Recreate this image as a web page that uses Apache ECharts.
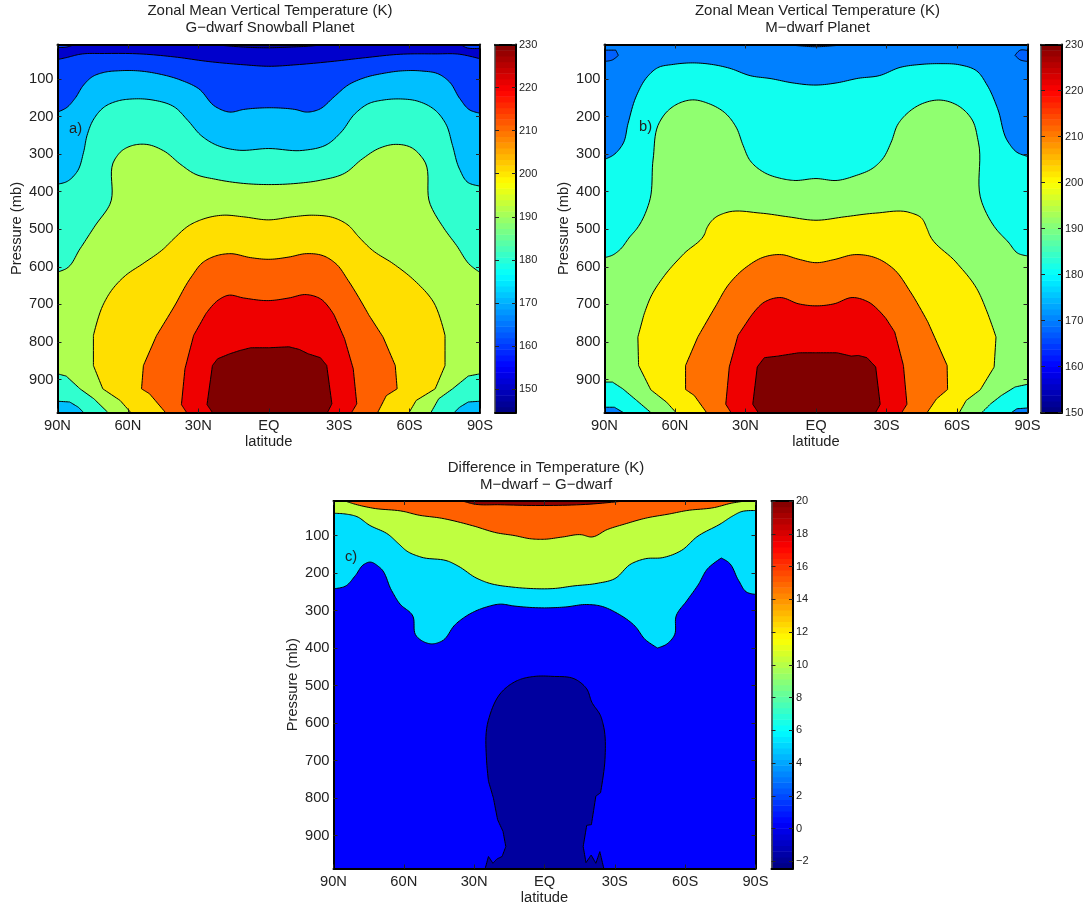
<!DOCTYPE html>
<html><head><meta charset="utf-8">
<style>html,body{margin:0;padding:0;background:#fff}#c{width:1089px;height:906px}</style>
<script src="https://cdn.jsdelivr.net/npm/echarts@6/dist/echarts.min.js"></script>
</head><body><div id="c"></div>
<script>
// Axis values
const latTicks = {'-90':'90N','-60':'60N','-30':'30N','0':'EQ','30':'30S','60':'60S','90':'90S'};
const pressureTicks = [100,200,300,400,500,600,700,800,900];
const P_TOP = 8, P_BOT = 988;
const cbTicksA = [150,160,170,180,190,200,210,220,230];
const cbTicksB = [150,160,170,180,190,200,210,220,230];
const cbTicksC = [-2,0,2,4,6,8,10,12,14,16,18,20];

// Panel a: contour outlines as [latitude (+ = south), pressure mb]
const a_base = [[-90,8],[90,8],[90,988],[-90,988]];
const a_lens = [[-24,8],[-18,11.4],[-7.8,15.8],[0,16.7],[8.6,15],[19,11.4],[24,8]];
const a_cornerL = [[-90,8],[-90,16],[-86.3,15],[-82.6,8]];
const a_cornerR = [[90,8],[81.8,8],[84,16],[90,18]];
const a_160 = [[-90,48],[-86.3,43],[-80.4,34],[-70,32],[-55,33],[-40.3,41],[-25.5,53.5],[-10.6,62],[0,66],[11.6,62],[26.5,53.5],[41.3,43],[56,34],[70.9,33],[81.4,34],[90,46],[90,988],[-90,988]];
const a_170 = [[-90,188],[-86.3,177],[-82.6,152],[-78.9,116],[-75.2,94],[-70,82],[-64,78],[-55,78.5],[-47.9,85],[-37.4,103],[-30,125],[-22.6,174],[-16.6,188],[-10.7,181],[-3.3,177],[4.2,177],[11.6,181.5],[16,188],[21.2,181.5],[27.9,147],[33.8,116],[41.3,95.5],[48.7,85],[56.1,78.5],[65,78.5],[72.5,87],[76.9,107],[81.4,152],[85.8,183],[90,191],[90,988],[-90,988]];
const a_180 = [[-90,380],[-86.3,374],[-81.9,349],[-78.9,295],[-77.4,250],[-74.5,206],[-70,174],[-64.1,158],[-58.1,153],[-49.3,156],[-40.3,174],[-34.5,210],[-28.5,252],[-22.6,275],[-13.7,289],[0,285],[14.5,290],[24.9,274],[30.9,241],[36.8,192],[42.7,165],[48.7,156],[56.1,153],[63.5,159],[70.9,183],[75.4,219],[78.3,277],[81.3,340],[85,376],[90,385],[90,988],[-90,988]];
const a_190 = [[-90,614],[-86.3,605],[-80.4,552],[-73.8,489],[-67.7,434],[-65.5,313],[-62.6,291],[-58.1,277],[-52.2,274],[-44.8,291],[-37.4,328],[-31.4,353],[-22.6,367],[-10.7,378],[0,381],[11.6,378],[22,369.5],[32.3,351],[39.8,313],[47.2,284],[53.9,274],[60.6,282],[65.8,313],[68.8,434],[74.8,499],[80,543],[85.9,596],[90,615],[90,885],[85,891],[78.3,925],[72.4,951.5],[69.1,988],[-68.5,988],[-74.5,951.5],[-80.4,925],[-86.3,891],[-90,885]];
const a_cornerBL = [[-90,958],[-84.8,960],[-81.1,974],[-78.9,988],[-90,988]];
const a_cornerBR = [[90,958],[85,960],[81.3,974],[79,988],[90,988]];
const a_200 = [[-58.8,988],[-63.3,956],[-70.7,925],[-74.7,863],[-74.7,783],[-70.7,703],[-67,663],[-61,623],[-53.7,592],[-44.8,552],[-40.4,525],[-33.7,489],[-28.5,474],[-19.6,462.6],[-10.7,467],[0,475],[10,467],[19,462.6],[28,470],[33.8,489],[38.3,520],[44.2,556],[53.1,592],[62,636],[70.2,694],[75.1,783],[75.1,863],[70.9,925],[62.8,956],[59.8,988]];
const a_210 = [[-44,988],[-50.8,938],[-54.2,925],[-53.4,863],[-47.8,783],[-40.4,707],[-33,627],[-27.8,587],[-22.6,571],[-16.6,565],[-7.7,575.6],[0,580],[8.6,574],[16,565],[23.4,571],[28.6,591.6],[33.8,636],[42.7,729],[48.7,787],[53.9,863],[54.7,925],[50.1,943],[46.4,988]];
const a_220 = [[-35,988],[-37.2,967],[-35.7,871.6],[-32,782.7],[-26.8,725],[-21.6,689],[-17.4,676],[-10.7,683],[0,690],[8.6,683],[16,674],[22,685],[27.9,729],[32.3,791.6],[36,871.6],[37.5,965],[35.3,988]];
const a_230 = [[-24,988],[-26.3,967],[-24,863],[-21.8,845],[-16.6,831.6],[-12.2,822.7],[-7.7,815.6],[0,815.6],[8.6,813],[13,820],[16.8,831.6],[22,842],[24.7,862.7],[26.9,965],[25,988]];

// Panel b
const b_base = [[-90,8],[90,8],[90,988],[-90,988]];
const b_lens = [[-14,8],[-8,11],[0,14],[8,11],[14.2,8]];
const b_cornerL = [[-90,23],[-85.2,23],[-84.1,37],[-86.6,49],[-90,53]];
const b_cornerR = [[90,24],[86.9,23],[84.7,37],[86.9,49],[90,53]];
const b_180 = [[-90,314],[-86.6,304],[-82.2,273],[-80,219],[-76.3,143],[-71.8,94],[-67.4,70],[-60.7,61],[-52.5,57],[-44.4,61],[-36.9,71],[-28,91],[-19.1,99],[-10.2,110],[0,116],[9,110],[18,98],[26.9,91],[35.8,69],[44.7,61],[52.8,59],[61,62],[68.4,78.5],[72.8,116],[77.3,179],[81.8,268],[85.5,295],[90,306],[90,988],[-90,988]];
const b_190 = [[-90,575.6],[-86.6,569],[-83.7,556],[-79.2,520],[-76.3,499],[-71,429],[-69.3,313],[-66.6,215],[-63.6,188],[-58.5,165],[-52.5,155.5],[-45.8,165],[-38.4,192],[-34,228],[-31,277],[-28,317.5],[-22,349],[-14.7,365],[-9.5,370],[0,365],[9,370],[16.5,358],[24.6,335.5],[28.3,313],[32,268],[35,219],[38.7,192],[45.4,165],[52.8,156],[60.2,170],[66.2,206],[69.1,268],[70.6,429],[76.6,499],[81.8,534],[86.2,565],[90,571],[90,913],[84.7,920],[78.8,943],[74.3,965],[70.6,988],[-70.3,988],[-76.3,956],[-82.2,925],[-86.6,907],[-90,907]];
const b_cornerBL = [[-90,974],[-85.8,974],[-82,988],[-90,988]];
const b_cornerBR = [[90,976],[85.5,978],[83.2,988],[90,988]];
const b_200 = [[-59.6,988],[-63.6,960.4],[-70.3,927.6],[-75.5,862.7],[-75.8,787],[-73.3,729],[-70.3,680],[-64.4,622.7],[-56.2,565],[-47.3,511.6],[-46.6,499],[-42.9,469],[-38.4,456],[-23.6,457],[-11.7,467],[0,476],[12,467],[25.4,457],[40.2,456],[44.7,469],[47.3,499],[48.4,516],[59.5,587],[68.4,658],[72.8,720],[76.6,787],[75.8,867],[69.9,927.6],[63.9,956],[61,988]];
const b_210 = [[-46.6,988],[-51.8,942.7],[-55.5,926.7],[-55.5,862.7],[-50.3,787],[-42.9,707],[-36.9,645],[-29.5,600],[-22.1,573.8],[-14.7,567.6],[-7.3,580],[0,589],[7.6,580.9],[16.5,567.6],[25.4,576],[32.8,604.4],[40.2,667],[47.6,747],[55.8,862.7],[56,926.7],[51.3,951.6],[47.3,988]];
const b_220 = [[-36.2,988],[-38.4,966],[-36.9,866.7],[-33.2,782.7],[-28,734],[-22,694],[-15.4,681.8],[-7.3,698.7],[0,704],[7.6,698.7],[15.7,681.8],[22.4,694],[29.8,738],[33.5,773.8],[37.2,862.7],[38.7,966],[36.5,988]];
const b_230 = [[-24.6,988],[-26.9,966],[-25,866.7],[-22,842],[-16.2,837.8],[-7.3,829],[0,829],[9,829],[15,837.8],[18,836],[21.7,842],[25.4,866.7],[27.3,966],[25.4,988]];

// Panel c
const c_base = [[-90,8],[90,8],[90,988],[-90,988]];
const c_lens = [[-35,8],[-30.6,15.5],[-18.9,18],[0,20],[19.4,16.4],[34,8]];
const c_10 = [[-90,8],[-85.1,8],[-81.4,15.5],[-73.3,27],[-60,36],[-54.2,45],[-43.9,54],[-30.6,74],[-20.3,93],[-13,100],[-5.6,109],[0,110],[7.7,104],[15.8,98],[19.9,104],[26.8,84],[34.2,69.5],[43,54],[53.3,42.5],[60.7,33.5],[72.5,25.4],[79.8,13.7],[85.7,8],[90,8],[90,988],[-90,988]];
const c_5 = [[-90,40.7],[-85.1,42.5],[-80,49.7],[-74.8,72],[-66.7,97],[-62.3,121.6],[-58.6,142],[-52.7,157.5],[-40.9,169],[-36.5,182.7],[-29.2,213],[-24.7,225],[-13,238],[-7,241],[4.7,241],[12,234.8],[22.4,227.6],[29.7,216],[37,175.5],[43,162],[50.4,159],[58.5,139.5],[65,103.6],[75.4,67.7],[79.8,49.7],[84.2,36],[90,33.5],[90,988],[-90,988]];
const c_0 = [[-90,242],[-85.1,235.7],[-80.7,207],[-77,177],[-74.8,171],[-70.4,184.5],[-65.2,247],[-61.6,283],[-56.4,312],[-54.6,368.6],[-51.3,384],[-48.3,389],[-43.9,382],[-38,337],[-32.1,310],[-24.7,290.5],[-18.9,283],[-13,288],[0,293],[9.1,290.5],[18,284],[23.9,288],[31.2,308],[38.6,341.7],[43,377.6],[48.2,400],[51.8,391],[55.2,368.6],[56.3,312],[60.7,274],[65.8,229],[69.5,189],[75.4,160],[78.4,171],[82.8,220],[86.5,252],[90,257],[90,988],[-90,988]];
const c_blob = [[-25.3,988],[-23.9,956],[-22,974],[-20.3,962.6],[-18.1,956],[-16.5,929.5],[-17.7,889],[-20,858],[-21.8,800],[-23.9,755],[-24.7,701],[-24,594],[-17.4,511.6],[-11.5,486.6],[-10,483],[-4,475.6],[3.2,475.6],[13.5,484.5],[18,509],[20.2,544.7],[23.9,580.5],[25,603],[25.8,697],[23.9,786],[21.9,795],[20,871],[18,873],[16.5,929.5],[17.7,972.5],[19.9,952],[21.9,974],[23.6,943],[25.3,988]];

const panels = [
  {grid:{left:57.5,top:44.5,width:422.5,height:368},
   layers:[[a_base,'#0000cc'],[a_lens,'#00009f'],[a_160,'#0040ff'],[a_cornerL,'#0040ff'],[a_cornerR,'#0040ff'],[a_170,'#00bfff'],[a_180,'#30ffcf'],[a_190,'#afff50'],[a_cornerBL,'#00bfff'],[a_cornerBR,'#00bfff'],[a_200,'#ffdf00'],[a_210,'#ff6000'],[a_220,'#ef0000'],[a_230,'#800000']],
   bar:{left:495,top:44.5,width:21,height:368,min:144.55,max:230,ticks:cbTicksA},
   title:'Zonal Mean Vertical Temperature (K)\nG−dwarf Snowball Planet', tx:270, ty:2.5, tag:'a)', tagX:69, tagY:121},
  {grid:{left:604.5,top:44.5,width:423,height:368},
   layers:[[b_base,'#0080ff'],[b_lens,'#0060ff'],[b_cornerL,'#0060ff'],[b_cornerR,'#0060ff'],[b_180,'#10ffef'],[b_190,'#90ff70'],[b_cornerBL,'#0080ff'],[b_cornerBR,'#0080ff'],[b_200,'#ffef00'],[b_210,'#ff7000'],[b_220,'#ef0000'],[b_230,'#800000']],
   bar:{left:1041,top:44.5,width:21,height:368,min:150,max:230,ticks:cbTicksB},
   title:'Zonal Mean Vertical Temperature (K)\nM−dwarf Planet', tx:817.5, ty:2.5, tag:'b)', tagX:639, tagY:119},
  {grid:{left:333.5,top:501,width:422,height:367.5},
   layers:[[c_base,'#ff6000'],[c_lens,'#8f0000'],[c_10,'#bfff40'],[c_5,'#00dfff'],[c_0,'#0000ff'],[c_blob,'#00009f']],
   bar:{left:771.5,top:501,width:21.5,height:367.5,min:-2.43,max:20,ticks:cbTicksC},
   title:'Difference in Temperature (K)\nM−dwarf − G−dwarf', tx:546, ty:459, tag:'c)', tagX:345, tagY:549}
];

function jet(t){
  const f=x=>Math.round(255*Math.max(0,Math.min(1,x)));
  return `rgb(${f(1.5-Math.abs(4*t-3))},${f(1.5-Math.abs(4*t-2))},${f(1.5-Math.abs(4*t-1))})`;
}
const FONT='"Liberation Sans",Arial,sans-serif';
const TXT='#222';
const FS=14.7;
const option={animation:false,backgroundColor:'#fff',grid:[],xAxis:[],yAxis:[],series:[],title:[],graphic:[]};

// Draw an outline as a curve through its read points: vertices on the plot edge,
// vertices in the coarse lower levels and sharp bends stay corners.
function curve(pts,px){
  const n=pts.length;
  const onEdge=p=>Math.abs(p[0])>=90||p[1]>=P_BOT||p[1]<=P_TOP;
  const unit=(a,b)=>{const dx=b[0]-a[0],dy=b[1]-a[1],d=Math.hypot(dx,dy)||1;return [dx/d,dy/d,d];};
  const tan=px.map((p,i)=>{
    if(onEdge(pts[i])||pts[i][1]>720) return [0,0];
    const u0=unit(px[(i-1+n)%n],p),u1=unit(p,px[(i+1)%n]);
    if(u0[0]*u1[0]+u0[1]*u1[1]<Math.cos(50*Math.PI/180)) return [0,0];
    const tx=u0[0]*u1[2]+u1[0]*u0[2],ty=u0[1]*u1[2]+u1[1]*u0[2],d=Math.hypot(tx,ty)||1;
    return [tx/d,ty/d];
  });
  const out=[];
  for(let i=0;i<n;i++){
    const j=(i+1)%n,a=px[i],b=px[j],d=Math.hypot(b[0]-a[0],b[1]-a[1])/3;
    const c1=[a[0]+tan[i][0]*d,a[1]+tan[i][1]*d],c2=[b[0]-tan[j][0]*d,b[1]-tan[j][1]*d];
    for(let s=0;s<10;s++){
      const t=s/10,m=1-t;
      out.push([m*m*m*a[0]+3*m*m*t*c1[0]+3*m*t*t*c2[0]+t*t*t*b[0],
                m*m*m*a[1]+3*m*m*t*c1[1]+3*m*t*t*c2[1]+t*t*t*b[1]]);
    }
  }
  return out;
}
function polySeries(pts,color,xi,yi,z){
  return {type:'custom',coordinateSystem:'cartesian2d',xAxisIndex:xi,yAxisIndex:yi,clip:true,z,silent:true,
    encode:{x:0,y:1},data:pts,
    renderItem(params,api){
      if(params.context.rendered) return;
      params.context.rendered=true;
      return {type:'polygon',shape:{points:curve(pts,pts.map(p=>api.coord(p)))},
        style:{fill:color,stroke:'#000',lineWidth:1}};
    }};
}
const line={show:true,onZero:false,lineStyle:{color:'#000',width:2}};
panels.forEach(pn=>{
  const g0=option.grid.length;
  option.grid.push({...pn.grid,containLabel:false,outerBoundsMode:'none'},
    {left:pn.bar.left,top:pn.bar.top,width:pn.bar.width,height:pn.bar.height,outerBoundsMode:'none'});
  const xb=option.xAxis.length, yb=option.yAxis.length;
  const tick={show:true,inside:true,length:4,lineStyle:{color:'#222',width:1}};
  option.xAxis.push(
   {gridIndex:g0,type:'value',min:-90,max:90,interval:30,position:'bottom',z:10,axisLine:line,axisTick:tick,splitLine:{show:false},
    name:'latitude',nameLocation:'middle',nameGap:22,nameTextStyle:{fontFamily:FONT,fontSize:FS,color:TXT},
    axisLabel:{fontFamily:FONT,fontSize:FS,color:TXT,margin:6,showMinLabel:true,showMaxLabel:true,formatter:v=>latTicks[String(v)]||''}},
   {gridIndex:g0,type:'value',min:-90,max:90,interval:30,position:'top',z:10,axisLine:line,axisTick:tick,splitLine:{show:false},axisLabel:{show:false}},
   {gridIndex:g0+1,type:'value',min:0,max:1,position:'bottom',z:10,axisLine:line,axisTick:{show:false},splitLine:{show:false},axisLabel:{show:false}},
   {gridIndex:g0+1,type:'value',min:0,max:1,position:'top',z:10,axisLine:line,axisTick:{show:false},splitLine:{show:false},axisLabel:{show:false}}
  );
  option.yAxis.push(
   {gridIndex:g0,type:'value',inverse:true,min:P_TOP,max:P_BOT,position:'left',z:10,axisLine:line,splitLine:{show:false},
    axisTick:{...tick,customValues:pressureTicks},
    name:'Pressure (mb)',nameLocation:'middle',nameGap:33,nameRotate:90,nameTextStyle:{fontFamily:FONT,fontSize:FS,color:TXT},
    axisLabel:{fontFamily:FONT,fontSize:FS,color:TXT,margin:4,customValues:pressureTicks}},
   {gridIndex:g0,type:'value',inverse:true,min:P_TOP,max:P_BOT,position:'right',z:10,axisLine:line,splitLine:{show:false},
    axisTick:{...tick,customValues:pressureTicks},axisLabel:{show:false}},
   {gridIndex:g0+1,type:'value',min:pn.bar.min,max:pn.bar.max,position:'right',z:10,axisLine:line,splitLine:{show:false},
    axisTick:{...tick,customValues:pn.bar.ticks},
    axisLabel:{fontFamily:FONT,fontSize:11,color:TXT,margin:3,customValues:pn.bar.ticks,
      formatter:v=>String(v).replace('-','−')}},
   {gridIndex:g0+1,type:'value',min:pn.bar.min,max:pn.bar.max,position:'left',z:10,axisLine:{...line,lineStyle:{color:'#444',width:1.5}},splitLine:{show:false},
    axisTick:{...tick,customValues:pn.bar.ticks},axisLabel:{show:false}}
  );
  pn.layers.forEach((l,i)=>option.series.push(polySeries(l[0],l[1],xb,yb,2+i*0.01)));
  // colour bar: 64 jet steps
  const steps=[...Array(64).keys()];
  const span=(pn.bar.max-pn.bar.min)/64;
  option.series.push({type:'custom',xAxisIndex:xb+2,yAxisIndex:yb+2,clip:true,silent:true,z:2,
    data:steps.map(i=>[0,pn.bar.min+i*span]),encode:{x:0,y:1},
    renderItem(params,api){
      const i=params.dataIndex;
      const a=api.coord([0,pn.bar.min+i*span]),b=api.coord([1,pn.bar.min+(i+1)*span]);
      return {type:'rect',shape:{x:a[0],y:b[1],width:b[0]-a[0],height:a[1]-b[1]+0.5},style:{fill:jet((i+0.5)/64)}};
    }});
  option.title.push({text:pn.title,left:pn.tx,top:pn.ty,textAlign:'center',padding:0,
    textStyle:{fontFamily:FONT,fontSize:15,fontWeight:'normal',color:TXT,lineHeight:17}});
  option.graphic.push({type:'text',left:pn.tagX,top:pn.tagY,z:100,style:{text:pn.tag,fontFamily:FONT,fontSize:FS,fill:TXT}});
});
const chart=echarts.init(document.getElementById('c'),null,{renderer:'canvas'});
chart.setOption(option);
</script></body></html>
